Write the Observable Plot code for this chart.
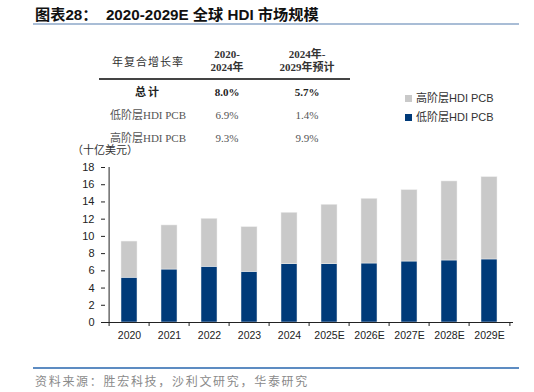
<!DOCTYPE html>
<html>
<head>
<meta charset="utf-8">
<script src="https://cdn.jsdelivr.net/npm/d3@7"></script>
<script src="https://cdn.jsdelivr.net/npm/@observablehq/plot@0.6"></script>
<style>
  html, body { margin: 0; padding: 0; background: #fff; }
  #wrap { position: relative; width: 534px; height: 392px; overflow: hidden; font-family: "Liberation Sans", Arial, "Noto Sans CJK SC", sans-serif; }
  .abs { position: absolute; white-space: nowrap; }
  #title { left: 35px; top: 2px; font-size: 15.2px; font-weight: bold; color: #111; font-family: "Liberation Sans", Arial, "Noto Sans CJK SC", sans-serif; }
  #trule { left: 33px; top: 23px; width: 486px; height: 2px; background: #a9bdd6; }
  #frule { left: 33px; top: 367px; width: 486px; height: 1.5px; background: #5d8cc2; }
  #footer { left: 35px; top: 372px; font-size: 12px; letter-spacing: 1.7px; color: #8a8a8a; font-family: "Liberation Serif", "Noto Sans CJK SC", serif; }
  .tbl { font-family: "Liberation Serif", "Times New Roman", "Noto Sans CJK SC", serif; font-size: 11px; color: #333; text-align: center; transform: translateX(-50%); line-height: 13px; }
  #hrule { left: 99px; top: 78px; width: 251px; height: 2px; background: #444; }
  .leg { font-size: 11px; color: #333; left: 405px; }
  .sw { display: inline-block; width: 7px; height: 7px; margin-right: 4px; vertical-align: 0px; }
  #unit { left: 72px; top: 144px; font-size: 11px; line-height: 13px; color: #333; font-family: "Liberation Serif", "Noto Sans CJK SC", serif; }
  #plot { position: absolute; left: 0; top: 0; }
</style>
</head>
<body>
<div id="wrap">
  <div id="plot"></div>
  <div class="abs" id="title">图表28：&nbsp; 2020-2029E 全球 HDI 市场规模</div>
  <div class="abs" id="trule"></div>
  <div id="table"></div>
  <div class="abs" id="hrule"></div>
  <div id="legend"></div>
  <div class="abs" id="unit">（十亿美元）</div>
  <div class="abs" id="frule"></div>
  <div class="abs" id="footer">资料来源：胜宏科技，沙利文研究，华泰研究</div>
</div>
<script>
// ---- data ----
const years = ["2020", "2021", "2022", "2023", "2024", "2025E", "2026E", "2027E", "2028E", "2029E"];
const lowTier = [5.2, 6.15, 6.47, 5.88, 6.77, 6.77, 6.85, 7.08, 7.2, 7.32];
const totals = [9.4, 11.27, 12.04, 11.07, 12.74, 13.67, 14.36, 15.37, 16.38, 16.88];
const seriesNames = ["高阶层HDI PCB", "低阶层HDI PCB"];
const seriesColors = ["#c9c9c9", "#003a79"];
const yTicks = [0, 2, 4, 6, 8, 10, 12, 14, 16, 18];

const tableHeader = ["年复合增长率", "2020-\n2024年", "2024年-\n2029年预计"];
const tableRows = [
  ["总计", "8.0%", "5.7%"],
  ["低阶层HDI PCB", "6.9%", "1.4%"],
  ["高阶层HDI PCB", "9.3%", "9.9%"]
];

// ---- build stacked table ----
const data = [];
years.forEach((y, i) => {
  data.push({year: y, series: seriesNames[1], value: lowTier[i]});
  data.push({year: y, series: seriesNames[0], value: +(totals[i] - lowTier[i]).toFixed(2)});
});

const W = 534, H = 392;
const mL = 105, mR = 21, mT = 167, mB = 70;
const step = (W - mL - mR) / years.length;

const plot = Plot.plot({
  width: W,
  height: H,
  marginLeft: mL,
  marginRight: mR,
  marginTop: mT,
  marginBottom: mB,
  style: {fontFamily: "'Liberation Sans', Arial, sans-serif", fontSize: "11px", color: "#222", background: "transparent"},
  x: {domain: years, paddingInner: 0.6, paddingOuter: 0.3, label: null},
  y: {domain: [0, 18], label: null},
  color: {domain: seriesNames, range: seriesColors},
  marks: [
    Plot.barY(data, Plot.stackY({order: [seriesNames[1], seriesNames[0]]}, {x: "year", y: "value", fill: "series", stroke: "#eeeeee", strokeWidth: 0.5})),
    Plot.axisY({ticks: yTicks, tickSize: 4, tickPadding: 7, tickFormat: d => d, fontSize: 11, stroke: "#222"}),
    Plot.ruleX([0], {x: () => years[0], y1: 0, y2: 18, dx: -step / 2, stroke: "#222"}),
    Plot.axisX({tickSize: 0, tickPadding: 9, fontSize: 10.5}),
    Plot.ruleY([0], {stroke: "#222"}),
    Plot.ruleX(years, {x: d => d, y1: 0, y2: 0, dx: -step / 2, insetBottom: -4, stroke: "#222"}),
    Plot.ruleX([years[years.length - 1]], {x: d => d, y1: 0, y2: 0, dx: step / 2, insetBottom: -4, stroke: "#222"})
  ]
});
document.getElementById("plot").appendChild(plot);

// ---- table ----
const colX = [148, 227, 307];
const table = document.getElementById("table");
tableHeader.forEach((t, i) => {
  const d = document.createElement("div");
  d.className = "abs tbl";
  d.style.left = colX[i] + "px";
  d.style.top = (i === 0 ? 56 : 48) + "px";
  d.style.fontWeight = i === 0 ? "normal" : "bold";
  d.style.letterSpacing = i === 0 ? "1px" : "0px";
  d.innerHTML = t.replace("\n", "<br>");
  table.appendChild(d);
});
const rowY = [86, 109, 132];
tableRows.forEach((r, ri) => {
  r.forEach((t, ci) => {
    const d = document.createElement("div");
    d.className = "abs tbl";
    d.style.left = colX[ci] + "px";
    d.style.top = rowY[ri] + "px";
    d.style.fontWeight = ri === 0 ? "bold" : "normal";
    d.style.color = ri === 0 ? "#222" : "#555";
    if (ci === 0 && ri === 0) d.style.letterSpacing = "2px";
    d.textContent = t;
    table.appendChild(d);
  });
});

// ---- legend ----
const legend = document.getElementById("legend");
seriesNames.forEach((s, i) => {
  const d = document.createElement("div");
  d.className = "abs leg";
  d.style.top = (89 + i * 19) + "px";
  d.innerHTML = `<span class="sw" style="background:${seriesColors[i]}"></span>${s}`;
  legend.appendChild(d);
});
</script>
</body>
</html>
